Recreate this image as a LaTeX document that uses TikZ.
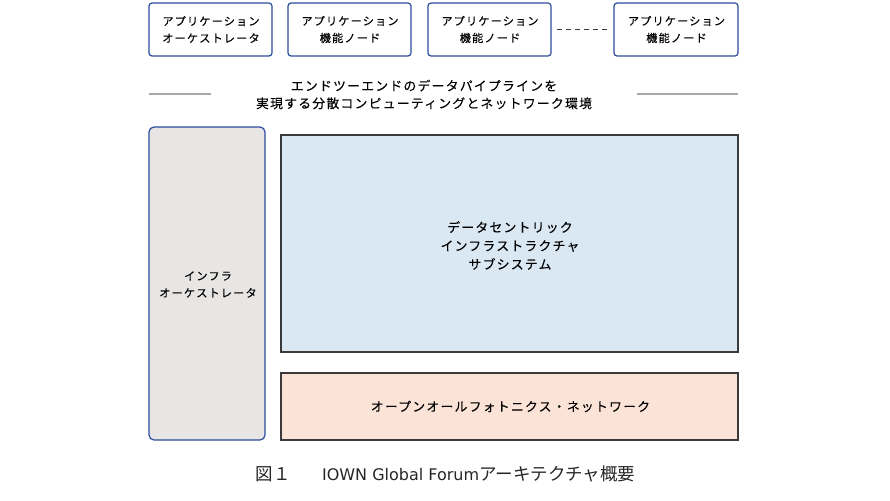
\documentclass[tikz,border=0pt]{standalone}
\usepackage{fontspec}
\setmainfont{Noto Sans CJK JP}
\newfontfamily\jp[LetterSpace=10,FakeBold=0.15]{Noto Sans CJK JP}
\newfontfamily\jpcap{Noto Sans CJK JP}
\newfontfamily\latcap{DejaVu Sans}
\definecolor{bluebd}{HTML}{2B4C9B}
\definecolor{darkbd}{HTML}{3A3A3A}
\definecolor{grayfill}{HTML}{E7E6E5}
\definecolor{bluefill}{HTML}{D9E8F3}
\definecolor{peachfill}{HTML}{FCE3D7}
\definecolor{grayline}{HTML}{A8A8A8}
\begin{document}
\begin{tikzpicture}[x=1pt,y=-1pt,
  txt/.style={font=\jp\fontsize{11.2}{17}\selectfont, align=center, text=black},
  bigtxt/.style={font=\jp\fontsize{12.8}{17.5}\selectfont, align=center, text=black},
  appbox/.style={draw=bluebd, line width=1.2pt, fill=white, rounded corners=3pt},
  layerbox/.style={draw=darkbd, line width=1.2pt},
  sep/.style={draw=grayline, line width=1.3pt}]
\useasboundingbox (0,0) rectangle (890,500);
% top application boxes
\draw[appbox] (149,3) rectangle (272,56);
\draw[appbox] (288,3) rectangle (411,56);
\draw[appbox] (428,3) rectangle (551,56);
\draw[appbox] (614,3) rectangle (738,56);
\node[txt] (a1) at (211,29.5) {アプリケーション\\オーケストレータ};
\node[txt] (a2) at (350,29.5) {アプリケーション\\機能ノード};
\node[txt] (a3) at (490,29.5) {アプリケーション\\機能ノード};
\node[txt] (a4) at (676.5,29.5) {アプリケーション\\機能ノード};
\coordinate (d1) at (557,29.5);
\coordinate (d2) at (607,29.5);
\draw[darkbd, line width=0.8pt, dash pattern=on 5pt off 4pt] (d1) -- (d2);
% middle heading
\draw[sep] (149,94) -- (211,94);
\draw[sep] (637,94) -- (738,94);
\node[bigtxt] (mid) at (424,94.5) {エンドツーエンドのデータパイプラインを\\実現する分散コンピューティングとネットワーク環境};
% infra orchestrator
\draw[appbox, fill=grayfill, rounded corners=5pt] (149,127) rectangle (265,440);
\node[txt] (infra) at (208,284.5) {インフラ\\オーケストレータ};
% data centric
\draw[layerbox, fill=bluefill] (281,135) rectangle (738,352);
\node[bigtxt, font=\jp\fontsize{12.8}{18.5}\selectfont] (dci) at (510,245.5) {データセントリック\\インフラストラクチャ\\サブシステム};
% photonics
\draw[layerbox, fill=peachfill] (281,373) rectangle (738,440);
\node[bigtxt] (apn) at (510.5,406.5) {オープンオールフォトニクス・ネットワーク};
% caption
\node[font=\jpcap\fontsize{17.5}{19}\selectfont, text=black!85] (cap) at (445.5,474) {図１\hspace{1.8em}{\latcap\fontsize{16}{19}\selectfont IOWN Global Forum}アーキテクチャ概要};
\end{tikzpicture}
\end{document}
